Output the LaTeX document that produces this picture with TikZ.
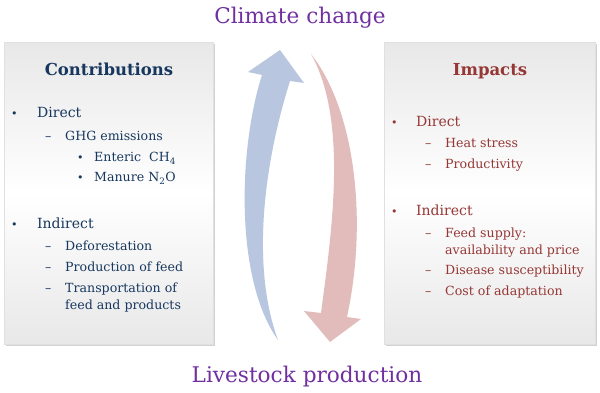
\documentclass[tikz,border=0pt]{standalone}
\usepackage{fontspec}
\setmainfont{DejaVu Serif}
\usetikzlibrary{shadows}
\definecolor{navy}{HTML}{17375E}
\definecolor{dred}{HTML}{953735}
\definecolor{purp}{HTML}{7030A0}
\definecolor{ablue}{HTML}{B9C6DF}
\definecolor{ared}{HTML}{E2BBBB}
\definecolor{boxgrey}{HTML}{E8E8E8}
\tikzset{
  panel/.style={draw=black!12, line width=0.4pt, top color=boxgrey, bottom color=boxgrey, middle color=white,
     drop shadow={opacity=0.35, shadow xshift=2pt, shadow yshift=-2pt}},
  title/.style={text=purp, font=\fontsize{21.6}{24}\selectfont, inner sep=0pt},
  headL/.style={text=navy, font=\fontsize{16.5}{19}\selectfont\bfseries, inner sep=0pt},
  headR/.style={text=dred, font=\fontsize{16.5}{19}\selectfont\bfseries, inner sep=0pt},
  topL/.style={text=navy, font=\fontsize{14}{16}\selectfont, inner sep=0pt, anchor=base west},
  topR/.style={text=dred, font=\fontsize{14}{16}\selectfont, inner sep=0pt, anchor=base west},
  itemL/.style={text=navy, font=\fontsize{12.6}{15}\selectfont, inner sep=0pt, anchor=base west},
  itemR/.style={text=dred, font=\fontsize{12.6}{15}\selectfont, inner sep=0pt, anchor=base west},
  dotL/.style={text=navy, font=\fontsize{11}{13}\selectfont, inner sep=0pt, anchor=base west},
  dotR/.style={text=dred, font=\fontsize{11}{13}\selectfont, inner sep=0pt, anchor=base west},
}
\begin{document}
\begin{tikzpicture}[x=1pt,y=-1pt]
\useasboundingbox[fill=white] (0,0) rectangle (600,393);
% panels
\node[panel, minimum width=209pt, minimum height=302pt, anchor=north west, inner sep=0pt] (lbox) at (4,42) {};
\node[panel, minimum width=211pt, minimum height=302pt, anchor=north west, inner sep=0pt] (rbox) at (384,42) {};
% titles
\node[title] (cc) at (300,18) {Climate change};
\node[title] (lp) at (307,377) {Livestock production};
% arrows
\fill[ablue] (278,340) .. controls (235,280) and (238,150) .. (262,75)
  -- (248,72) -- (280,50) -- (304,83) -- (290,81)
  .. controls (262,170) and (252,270) .. (278,340) -- cycle;
\fill[ared] (311,54) .. controls (355,110) and (368,220) .. (347,317)
  -- (361,319) -- (330,342) -- (304,311) -- (321,313)
  .. controls (332,230) and (348,120) .. (311,54) -- cycle;
% left panel text
\node[headL] (contrib) at (109,69) {Contributions};
\node[dotL] (lb1) at (11,118) {•};
\node[topL] (ld) at (37,118) {Direct};
\node[itemL] (lm1) at (45,141) {–};
\node[itemL] (lghg) at (65,141) {GHG emissions};
\node[dotL] (lb2) at (77,162) {•};
\node[itemL] (lent) at (94,162) {Enteric\ \ CH\textsubscript{4}};
\node[dotL] (lb3) at (77,182) {•};
\node[itemL] (lman) at (94,182) {Manure N\textsubscript{2}O};
\node[dotL] (lb4) at (11,228) {•};
\node[topL] (lind) at (37,228) {Indirect};
\node[itemL] (lm2) at (45,250) {–};
\node[itemL] (ldef) at (65,250) {Deforestation};
\node[itemL] (lm3) at (45,271) {–};
\node[itemL] (lprod) at (65,271) {Production of feed};
\node[itemL] (lm4) at (45,292) {–};
\node[itemL] (ltr) at (65,292) {Transportation of};
\node[itemL] (ltr2) at (65,309) {feed and products};
% right panel text
\node[headR] (imp) at (490,71) {Impacts};
\node[dotR] (rb1) at (391,127) {•};
\node[topR] (rd) at (416,127) {Direct};
\node[itemR] (rm1) at (425,148) {–};
\node[itemR] (rheat) at (445,148) {Heat stress};
\node[itemR] (rm2) at (425,168) {–};
\node[itemR] (rprod) at (445,168) {Productivity};
\node[dotR] (rb2) at (391,215) {•};
\node[topR] (rind) at (416,215) {Indirect};
\node[itemR] (rm3) at (425,237) {–};
\node[itemR] (rfeed) at (445,237) {Feed supply:};
\node[itemR] (ravail) at (445,254) {availability and price};
\node[itemR] (rm4) at (425,274) {–};
\node[itemR] (rdis) at (445,274) {Disease susceptibility};
\node[itemR] (rm5) at (425,295) {–};
\node[itemR] (rcost) at (445,295) {Cost of adaptation};
\end{tikzpicture}
\end{document}
